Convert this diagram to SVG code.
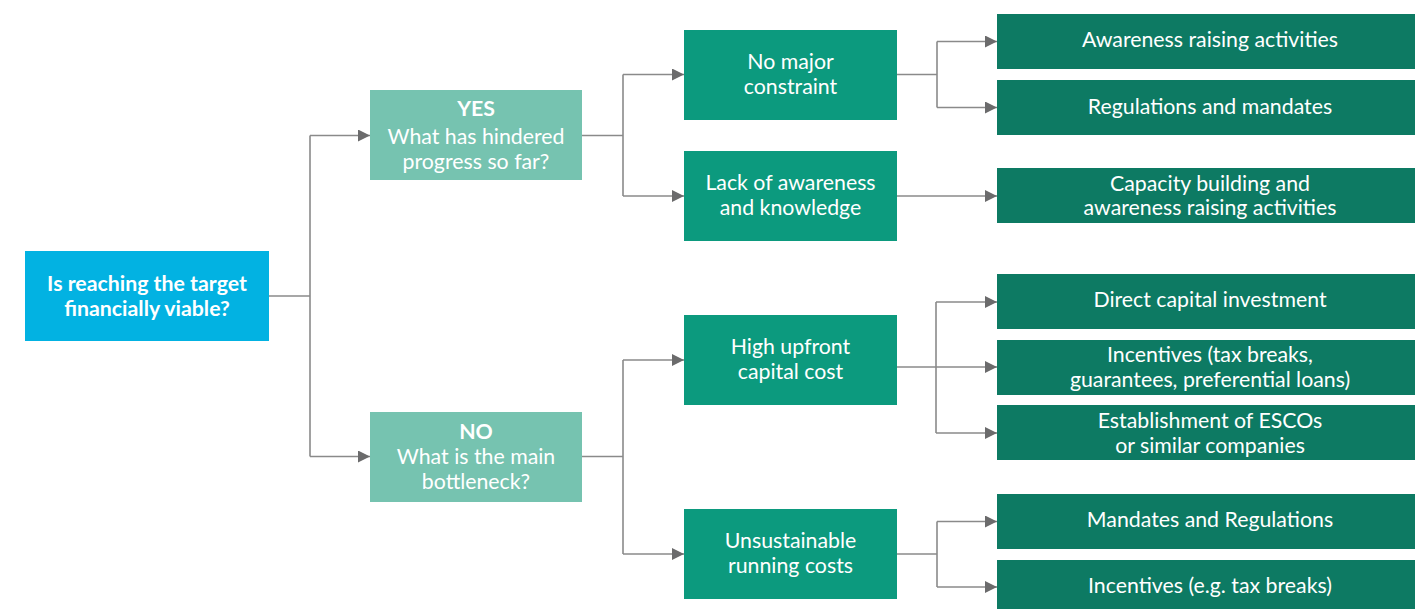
<svg xmlns="http://www.w3.org/2000/svg" width="1415" height="609" viewBox="0 0 1415 609">
<defs>
<style>
.root{fill:#02B2E2}
.q{fill:#76C3B0}
.l2{fill:#0C9A7E}
.leaf{fill:#0D7A63}
text{font-family:Lato,"Open Sans","Liberation Sans",sans-serif;font-size:21.3px;fill:#ffffff;text-anchor:middle}
.b{font-weight:bold}
.c{fill:none;stroke:#8a8a8a;stroke-width:1.6}
.a{marker-end:url(#arr)}
</style>
<marker id="arr" markerUnits="userSpaceOnUse" markerWidth="12" markerHeight="12" refX="12" refY="6" orient="auto" viewBox="0 0 12 12">
<path d="M0,0 L12,6 L0,12 z" fill="#6b6b6c"/>
</marker>
</defs>
<rect width="1415" height="609" fill="#ffffff"/>
<g id="connectors">
<path class="c" d="M269,296 H310 M310,135.5 V456.5 M582,135.5 H623 M623,74.5 V196 M582,456.5 H623 M623,360 V554 M897,74.5 H937 M937,41.5 V107.5 M897,367 H936 M936,302 V433 M897,554 H937 M937,521.5 V587"/>
<path class="c a" d="M310,135.5 H370"/>
<path class="c a" d="M310,456.5 H370"/>
<path class="c a" d="M623,74.5 H684"/>
<path class="c a" d="M623,196 H684"/>
<path class="c a" d="M623,360 H684"/>
<path class="c a" d="M623,554 H684"/>
<path class="c a" d="M937,41.5 H997"/>
<path class="c a" d="M937,107.5 H997"/>
<path class="c a" d="M897,196 H997"/>
<path class="c a" d="M936,302 H997"/>
<path class="c a" d="M936,367 H997"/>
<path class="c a" d="M936,433 H997"/>
<path class="c a" d="M937,521.5 H997"/>
<path class="c a" d="M937,587 H997"/>
</g>
<g id="root">
<rect class="root" x="25" y="251" width="244" height="90"/>
<text class="b" x="147" y="290.5">Is reaching the target</text>
<text class="b" x="147" y="315.5">financially viable?</text>
</g>
<g id="yes">
<rect class="q" x="370" y="90" width="212" height="90"/>
<text class="b" x="476" y="116">YES</text>
<text x="476" y="143.5">What has hindered</text>
<text x="476" y="168.5">progress so far?</text>
</g>
<g id="no">
<rect class="q" x="370" y="412" width="212" height="90"/>
<text class="b" x="476" y="438.5">NO</text>
<text x="476" y="464">What is the main</text>
<text x="476" y="489">bottleneck?</text>
</g>
<g id="no-major">
<rect class="l2" x="684" y="30" width="213" height="90"/>
<text x="790.5" y="69">No major</text>
<text x="790.5" y="94">constraint</text>
</g>
<g id="lack">
<rect class="l2" x="684" y="151" width="213" height="90"/>
<text x="790.5" y="190">Lack of awareness</text>
<text x="790.5" y="215">and knowledge</text>
</g>
<g id="high-upfront">
<rect class="l2" x="684" y="315" width="213" height="90"/>
<text x="790.5" y="353.5">High upfront</text>
<text x="790.5" y="378.5">capital cost</text>
</g>
<g id="unsustainable">
<rect class="l2" x="684" y="509" width="213" height="90"/>
<text x="790.5" y="547.5">Unsustainable</text>
<text x="790.5" y="572.5">running costs</text>
</g>
<g id="leaf-awareness">
<rect class="leaf" x="997" y="14" width="418" height="55"/>
<text x="1210" y="47">Awareness raising activities</text>
</g>
<g id="leaf-regulations">
<rect class="leaf" x="997" y="80" width="418" height="55"/>
<text x="1210" y="113.5">Regulations and mandates</text>
</g>
<g id="leaf-capacity">
<rect class="leaf" x="997" y="168" width="418" height="55"/>
<text x="1210" y="190.5">Capacity building and</text>
<text x="1210" y="214.5">awareness raising activities</text>
</g>
<g id="leaf-direct">
<rect class="leaf" x="997" y="274" width="418" height="55"/>
<text x="1210" y="306.5">Direct capital investment</text>
</g>
<g id="leaf-incentives">
<rect class="leaf" x="997" y="340" width="418" height="55"/>
<text x="1210" y="361.5">Incentives (tax breaks,</text>
<text x="1210" y="386.5">guarantees, preferential loans)</text>
</g>
<g id="leaf-escos">
<rect class="leaf" x="997" y="405" width="418" height="55"/>
<text x="1210" y="427.5">Establishment of ESCOs</text>
<text x="1210" y="452.5">or similar companies</text>
</g>
<g id="leaf-mandates">
<rect class="leaf" x="997" y="494" width="418" height="55"/>
<text x="1210" y="527">Mandates and Regulations</text>
</g>
<g id="leaf-incentives-eg">
<rect class="leaf" x="997" y="560" width="418" height="49"/>
<text x="1210" y="593">Incentives (e.g. tax breaks)</text>
</g>
</svg>
